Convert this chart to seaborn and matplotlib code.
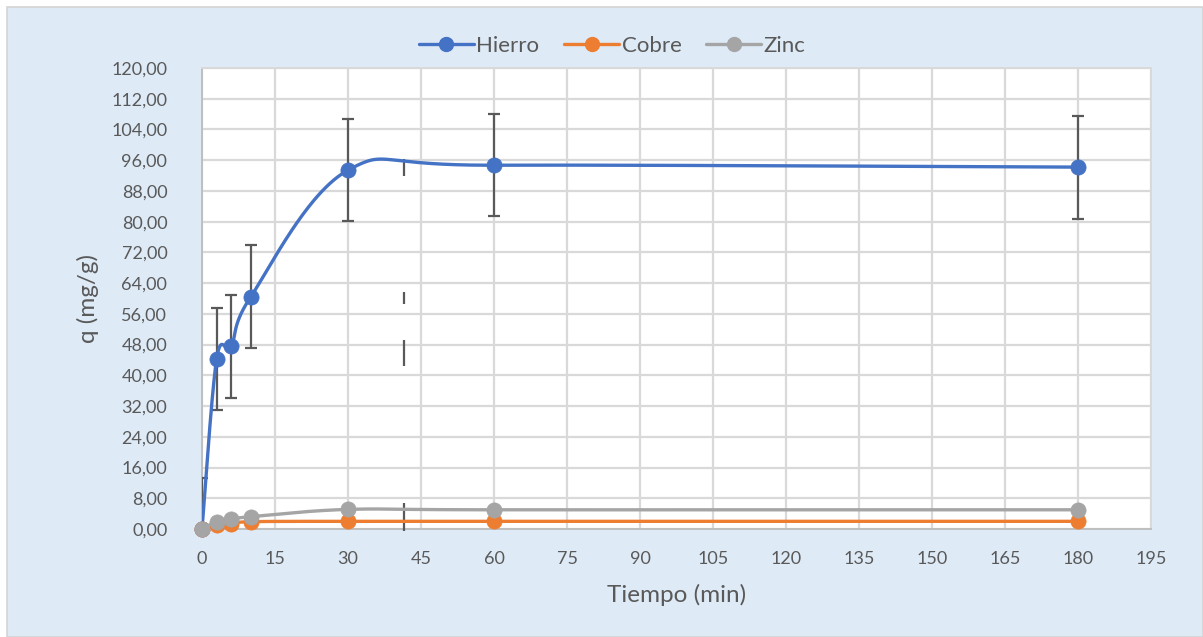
import numpy as np
import pandas as pd
import matplotlib
matplotlib.use("Agg")
import matplotlib.pyplot as plt
from matplotlib.lines import Line2D
from matplotlib.patches import Rectangle
import seaborn as sns

# ---- data -------------------------------------------------------------
tiempo = [0, 3, 6, 10, 30, 60, 180]
hierro = [0.0, 44.2, 47.6, 60.4, 93.4, 94.7, 94.2]
cobre = [0.0, 1.0, 1.3, 1.9, 2.0, 2.0, 2.0]
zinc = [0.0, 1.9, 2.5, 3.2, 5.1, 5.0, 5.0]
hierro_err = [13.4, 13.3, 13.4, 13.4, 13.3, 13.3, 13.4]

# loose error-bar fragments left at t ~ 41.5 min (low, high)
stray_x = 41.5
stray_low = [91.9, 58.6, 45.9, 42.4, -0.5]
stray_high = [96.3, 61.7, 49.2, 45.7, 6.8]

series_names = ["Hierro", "Cobre", "Zinc"]
series_values = [hierro, cobre, zinc]
colors = {"Hierro": "#4472C4", "Cobre": "#ED7D31", "Zinc": "#A5A5A5"}

x_ticks = list(range(0, 196, 15))
y_ticks = list(range(0, 121, 8))
y_tick_labels = [f"{v:.2f}".replace(".", ",") for v in y_ticks]

# ---- style ------------------------------------------------------------
sns.set_theme(style="white")
plt.rcParams["font.family"] = ["Lato", "DejaVu Sans"]
text_col = "#595959"
grid_col = "#D9D9D9"

fig = plt.figure(figsize=(12.03, 6.37), dpi=100)
fig.patch.set_facecolor("white")
fig.add_artist(Rectangle((7 / 1203, 0), 1 - 7 / 1203, 1 - 7 / 637,
                         transform=fig.transFigure, facecolor="#DEEAF6",
                         edgecolor="#D4D4D4", linewidth=1.2, zorder=-10))

ax = fig.add_axes([202 / 1203, 1 - 529 / 637, (1151 - 202) / 1203, (529 - 68) / 637])
ax.set_facecolor("white")
ax.set_xlim(0, 195)
ax.set_ylim(0, 120)
ax.set_xticks(x_ticks)
ax.set_yticks(y_ticks)
ax.set_yticklabels(y_tick_labels)
ax.grid(True, color=grid_col, linewidth=1.6)
ax.set_axisbelow(True)
for side, sp in ax.spines.items():
    sp.set_color("#BFBFBF" if side in ("left", "bottom") else grid_col)
    sp.set_linewidth(1.4)
ax.tick_params(axis="both", length=0, labelsize=13, colors=text_col)
ax.tick_params(axis="y", pad=25)
ax.tick_params(axis="x", pad=16)


def smooth_curve(xs, ys, n=60):
    """Bezier smoothing computed in display space (spreadsheet-style)."""
    pts = ax.transData.transform(np.column_stack([xs, ys]))
    out = []
    m = len(pts)
    for i in range(m - 1):
        p0 = pts[i]
        p3 = pts[i + 1]
        pm = pts[i - 1] if i > 0 else pts[i]
        pp = pts[i + 2] if i + 2 < m else pts[i + 1]
        c1 = p0 + (p3 - pm) / 6.0
        c2 = p3 - (pp - p0) / 6.0
        t = np.linspace(0, 1, n)[:, None]
        seg = ((1 - t) ** 3) * p0 + 3 * ((1 - t) ** 2) * t * c1 \
            + 3 * (1 - t) * t ** 2 * c2 + t ** 3 * p3
        out.append(seg if i == 0 else seg[1:])
    curve = ax.transData.inverted().transform(np.vstack(out))
    return curve[:, 0], curve[:, 1]


# Hierro error bars (under the markers)
ax.errorbar(tiempo, hierro, yerr=hierro_err, fmt="none", ecolor=text_col,
            elinewidth=1.6, capsize=4, capthick=1.6, zorder=3)
ax.vlines([stray_x] * len(stray_low), stray_low, stray_high, colors=text_col,
          linewidth=1.6, zorder=3, clip_on=False)

for k, (name, vals) in enumerate(zip(series_names, series_values)):
    cx, cy = smooth_curve(tiempo, vals)
    curve_df = pd.DataFrame({"t": cx, "q": cy})
    sns.lineplot(data=curve_df, x="t", y="q", ax=ax, sort=False,
                 color=colors[name], linewidth=2.4, zorder=4 + 2 * k,
                 legend=False)
    pts_df = pd.DataFrame({"t": tiempo, "q": vals})
    sns.scatterplot(data=pts_df, x="t", y="q", ax=ax, color=colors[name],
                    s=120, edgecolor=colors[name], linewidth=0.5,
                    zorder=5 + 2 * k, legend=False)
    ax.collections[-1].set_clip_on(False)

ax.set_xlabel("Tiempo (min)", fontsize=17.5, color=text_col, labelpad=12)
ax.set_ylabel("q (mg/g)", fontsize=17.5, color=text_col, labelpad=9)

handles = [Line2D([0], [0], color=colors[n], linewidth=2.4, marker="o",
                  markersize=10, label=n) for n in series_names]
fig.legend(handles=handles, loc="center", bbox_to_anchor=(612 / 1203, 1 - 46 / 637),
           ncol=3, frameon=False, fontsize=16, handlelength=2.5,
           handletextpad=0.1, columnspacing=1.1, labelcolor=text_col)

fig.savefig("out.png", dpi=100, facecolor=fig.get_facecolor())
